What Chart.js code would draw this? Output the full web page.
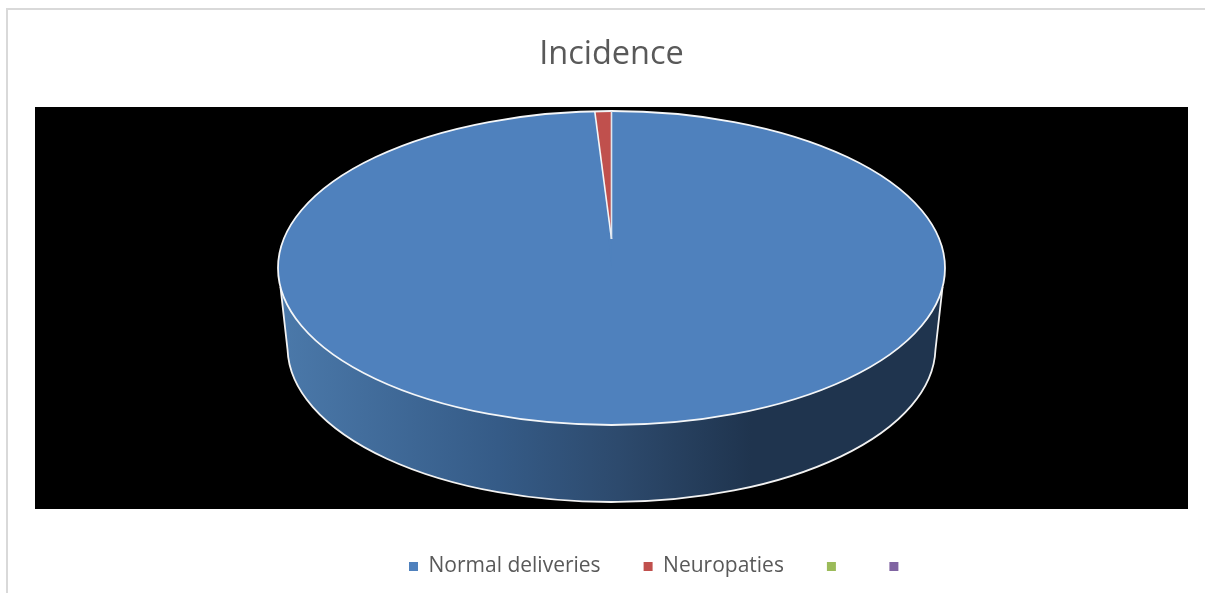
<!DOCTYPE html>
<html>
<head>
<meta charset="utf-8">
<title>Incidence</title>
<script src="https://cdn.jsdelivr.net/npm/chart.js@4/dist/chart.umd.js"></script>
<style>
  html, body { margin: 0; padding: 0; background: #fff; overflow: hidden; }
  #frame { position: absolute; left: 6px; top: 8px; right: 0; bottom: 0;
           border-top: 2px solid #d9d9d9; border-left: 2px solid #d9d9d9; }
  #incidence { position: absolute; left: 0; top: 0; }
</style>
</head>
<body>
<div id="frame"></div>
<canvas id="incidence" width="1205" height="593"></canvas>
<script>
const categories = ['Normal deliveries', 'Neuropaties', '', ''];
const incidenceValues = [99.2, 0.8, 0, 0];
const sliceColors = ['#4f81bd', '#c0504d', '#9bbb59', '#8064a2'];
const chartTitle = 'Incidence';

// Tilted-disc geometry in canvas pixels.
const disc = { cx: 611.5, cy: 268, rx: 333.5, ry: 157, apexY: 239 };
const base = { cx: 611.5, cy: 347, rx: 324, ry: 155, joinTop: 287, joinBottom: 350 };
const wallStops = [[0, '#4b79aa'], [0.33, '#355b87'], [0.51, '#2d4a6d'], [0.71, '#1f344e'], [1, '#1f344e']];
const textColor = '#595959';
const fontFamily = '"Open Sans", sans-serif';

function drawWall(ctx) {
  const left = disc.cx - disc.rx, width = 2 * disc.rx;
  const grad = ctx.createLinearGradient(left, 0, left + width, 0);
  wallStops.forEach(([at, color]) => grad.addColorStop(at, color));
  const xTop = disc.rx * Math.sqrt(1 - Math.pow((base.joinTop - disc.cy) / disc.ry, 2));
  const xBot = base.rx * Math.sqrt(1 - Math.pow((base.joinBottom - base.cy) / base.ry, 2));
  const aBot = Math.asin((base.joinBottom - base.cy) / base.ry);

  const outline = () => {
    ctx.beginPath();
    ctx.moveTo(disc.cx - xTop, base.joinTop);
    ctx.lineTo(base.cx - xBot, base.joinBottom);
    ctx.ellipse(base.cx, base.cy, base.rx, base.ry, 0, Math.PI - aBot, aBot, true);
    ctx.lineTo(disc.cx + xTop, base.joinTop);
  };

  outline();
  ctx.closePath();
  ctx.fillStyle = grad;
  ctx.fill();

  outline();
  ctx.strokeStyle = '#f2f2f2';
  ctx.lineWidth = 1.8;
  ctx.stroke();
}

// Paints one arc element squashed onto the disc, with its centre placed at centerY.
function drawArc(ctx, arc, centerY, radiusY) {
  const r = arc.outerRadius;
  ctx.save();
  ctx.translate(disc.cx, centerY);
  ctx.scale(disc.rx / r, radiusY / r);
  ctx.translate(-arc.x, -arc.y);
  arc.draw(ctx);
  ctx.restore();
}

const tiltedPie = {
  id: 'tiltedPie',
  beforeLayout(chart) {
    // The band under the plot area is taller than the legend row needs.
    const legend = chart.legend;
    if (!legend.$fitWrapped) {
      const fit = legend.fit;
      legend.fit = function () { fit.call(this); this.height = 84; };
      legend.$fitWrapped = true;
    }
  },
  afterLayout(chart) {
    // The legend row starts right of the plot's left edge and sits a little below the band's centre.
    chart.legend.left = 409 - chart.options.plugins.legend.labels.padding;
    chart.legend.top = chart.chartArea.bottom + 4;
  },
  beforeDraw(chart) {
    const { ctx, chartArea: a } = chart;
    ctx.save();
    ctx.fillStyle = '#000';
    ctx.fillRect(a.left, a.top, a.right - a.left, a.bottom - a.top);
    ctx.restore();
  },
  beforeDatasetDraw(chart, args) {
    const { ctx } = chart;
    const [main, minor] = args.meta.data;
    ctx.save();
    drawWall(ctx);

    ctx.beginPath();
    ctx.ellipse(disc.cx, disc.cy, disc.rx, disc.ry, 0, 0, Math.PI * 2);
    ctx.fillStyle = main.options.backgroundColor;
    ctx.fill();
    drawArc(ctx, main, disc.cy, disc.ry);

    // The perspective pulls the narrow slice's tip above the disc centre.
    const radialY = disc.apexY - (disc.cy - disc.ry);
    drawArc(ctx, minor, disc.apexY, radialY);

    ctx.beginPath();
    ctx.ellipse(disc.cx, disc.cy, disc.rx, disc.ry, 0, 0, Math.PI * 2);
    ctx.strokeStyle = '#f4f6f8';
    ctx.lineWidth = 1.8;
    ctx.stroke();

    const edge = (angle) => [disc.cx + disc.rx * Math.cos(angle), disc.apexY + radialY * Math.sin(angle)];
    const [x0, y0] = edge(minor.startAngle);
    const [x1, y1] = edge(minor.endAngle);
    ctx.beginPath();
    ctx.moveTo(x0, y0);
    ctx.lineTo(disc.cx, disc.apexY);
    ctx.strokeStyle = '#f4f6f8';
    ctx.lineWidth = 1.6;
    ctx.stroke();
    ctx.beginPath();
    ctx.moveTo(x1, y1);
    ctx.lineTo(disc.cx, disc.apexY);
    ctx.strokeStyle = '#dfe6ef';
    ctx.lineWidth = 1.6;
    ctx.stroke();
    ctx.restore();
    return false;
  }
};

new Chart(document.getElementById('incidence'), {
  type: 'pie',
  data: {
    labels: categories,
    datasets: [{
      data: incidenceValues,
      backgroundColor: sliceColors,
      borderWidth: 0
    }]
  },
  plugins: [tiltedPie],
  options: {
    responsive: false,
    animation: false,
    layout: { padding: { left: 35, right: 17, top: 0, bottom: 0 } },
    plugins: {
      title: {
        display: true,
        text: chartTitle,
        color: textColor,
        font: { family: fontFamily, size: 32.5, weight: 'normal', lineHeight: 1.2 },
        padding: { top: 35, bottom: 33 }
      },
      legend: {
        display: true,
        position: 'bottom',
        align: 'start',
        labels: {
          color: textColor,
          font: { family: fontFamily, size: 21 },
          boxWidth: 9,
          boxHeight: 9,
          padding: 43
        }
      },
      tooltip: { enabled: true }
    }
  }
});
</script>
</body>
</html>
